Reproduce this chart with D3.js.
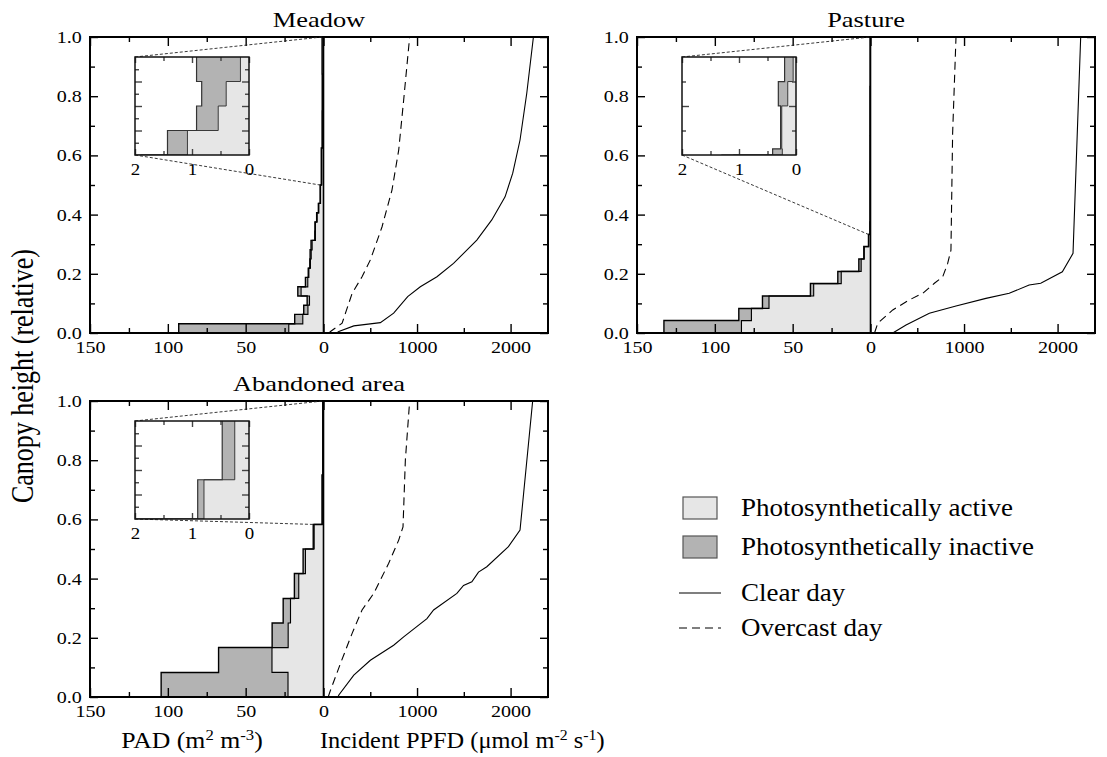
<!DOCTYPE html>
<html lang="en">
<head>
<meta charset="UTF-8">
<title>Canopy structure and light profiles</title>
<script src="https://d3js.org/d3.v7.min.js"></script>
<style>
    body { margin: 0; background: #fff; }
    svg { display: block; }
    text { font-family: "Liberation Serif", "Times New Roman", serif; fill: #000; }
</style>
</head>
<body>
<div id="chart"></div>
<script>
// ---- data: layer boundaries (relative canopy height) and PAD per layer (m2 m-3) ----
const meadowLayers = [0, 0.031, 0.063, 0.094, 0.125, 0.156, 0.188, 0.219, 0.25, 0.281, 0.313,
                      0.344, 0.375, 0.406, 0.438, 0.469, 0.5, 0.625, 0.75, 0.875, 1];
const meadowTotal  = [93, 18.5, 12.7, 10.5, 16.5, 11.6, 9.8, 8.8, 8.6, 8.0, 5.6, 5.5, 4.4, 3.3, 2.2, 2.2, 1.43, 0.92, 0.83, 0.92];
const meadowActive = [22.3, 13.3, 10.0, 9.0, 14.4, 10.1, 9.4, 8.4, 7.9, 7.3, 5.2, 5.2, 4.1, 3.0, 1.9, 1.9, 1.08, 0.54, 0.40, 0.15];

const pastureLayers = [0, 0.042, 0.083, 0.125, 0.167, 0.208, 0.25, 0.292, 0.333, 0.375, 0.667, 0.833, 1];
const pastureTotal  = [132.7, 84.6, 69.4, 38.6, 21.0, 7.5, 4.3, 1.3, 0.41, 0.27, 0.31, 0.2];
const pastureActive = [82.9, 76.5, 65.2, 36.5, 18.8, 6.0, 4.0, 1.1, 0.24, 0.25, 0.145, 0.05];

const abandonedLayers = [0, 0.083, 0.167, 0.25, 0.333, 0.417, 0.5, 0.583, 0.75, 1];
const abandonedTotal  = [104.3, 67.4, 33.0, 25.9, 18.7, 13.1, 6.6, 0.90, 0.47];
const abandonedActive = [22.8, 33.1, 22.7, 21.2, 15.9, 11.6, 6.0, 0.79, 0.25];

// ---- incident PPFD profiles (umol m-2 s-1) ----
const meadowClearH = [0, 0.005, 0.024, 0.035, 0.067, 0.123, 0.156, 0.19, 0.235, 0.314, 0.382, 0.46, 0.54, 0.652, 0.81, 1.0];
const meadowClear  = [140, 164, 324, 608, 750, 900, 1035, 1213, 1390, 1639, 1799, 1941, 2023, 2101, 2173, 2244];
const meadowOverH  = [0, 0.005, 0.033, 0.067, 0.134, 0.19, 0.247, 0.359, 0.483, 0.618, 0.787, 1.0];
const meadowOver   = [60, 75, 199, 235, 306, 412, 501, 626, 732, 804, 857, 921];

const pastureClearH = [0, 0.027, 0.067, 0.091, 0.117, 0.134, 0.162, 0.168, 0.207, 0.269, 1.0];
const pastureClear  = [238, 380, 629, 914, 1234, 1483, 1696, 1820, 2051, 2165, 2247];
const pastureOverH  = [0, 0.033, 0.078, 0.112, 0.134, 0.168, 0.19, 0.235, 0.28, 0.675, 1.0];
const pastureOver   = [43, 78, 238, 416, 558, 683, 772, 825, 860, 878, 914];

const abandonedClearH = [0, 0.007, 0.074, 0.124, 0.175, 0.203, 0.265, 0.294, 0.35, 0.377, 0.389, 0.422, 0.44, 0.508, 0.564, 1.0];
const abandonedClear  = [155, 164, 324, 501, 750, 857, 1106, 1177, 1426, 1497, 1586, 1657, 1746, 1977, 2101, 2236];
const abandonedOverH  = [0, 0.023, 0.113, 0.215, 0.294, 0.35, 0.395, 0.452, 0.53, 0.575, 0.80, 1.0];
const abandonedOver   = [50, 75, 181, 306, 412, 537, 608, 697, 804, 850, 875, 921];

// ---- inset ranges (zoomed upper canopy) ----
const meadowInset = [0.5, 1], pastureInset = [0.333, 1], abandonedInset = [0.583, 1];

// ---- ticks and labels ----
const padTicks = [150, 125, 100, 75, 50, 25, 0];
const ppfdTicks = [500, 1000, 1500, 2000];
const heightTicks = d3.range(0, 11).map(i => i / 10);
const insetPadTicks = [2, 1.5, 1, 0.5, 0];
const legendLabels = ["Photosynthetically active", "Photosynthetically inactive", "Clear day", "Overcast day"];

const LIGHT = "#e6e6e6", DARK = "#b3b3b3";
const width = 1107, height = 757;
const SX = 1.18;               // the original figure is a bit wider than tall in its glyphs
const panelW = 458, panelH = 296, padW = 233.5;

const panels = [
    { title: "Meadow", left: 90, top: 37, layers: meadowLayers, total: meadowTotal, active: meadowActive,
      clearH: meadowClearH, clear: meadowClear, overH: meadowOverH, over: meadowOver, inset: meadowInset, insetDiv: 8 },
    { title: "Pasture", left: 637, top: 37, layers: pastureLayers, total: pastureTotal, active: pastureActive,
      clearH: pastureClearH, clear: pastureClear, overH: pastureOverH, over: pastureOver, inset: pastureInset, insetDiv: 4 },
    { title: "Abandoned area", left: 90, top: 401, layers: abandonedLayers, total: abandonedTotal, active: abandonedActive,
      clearH: abandonedClearH, clear: abandonedClear, overH: abandonedOverH, over: abandonedOver, inset: abandonedInset, insetDiv: 8 }
];

const svg = d3.select("#chart").append("svg")
    .attr("width", width)
    .attr("height", height);

function addText(parent, x, y, str, size, anchor, sx) {
    return parent.append("text")
        .attr("transform", `translate(${x},${y}) scale(${sx || SX},1)`)
        .attr("text-anchor", anchor || "middle")
        .style("font-size", size + "px")
        .text(str);
}

function stepPoints(bounds, values) {
    const pts = [];
    values.forEach((v, i) => {
        pts.push([v, bounds[i]]);
        pts.push([v, bounds[i + 1]]);
    });
    return pts;
}

function drawProfile(g, p, xs, ys, outline, outlineW) {
    const area = d3.area().x0(xs(0)).x1(d => xs(d[0])).y(d => ys(d[1]));
    const line = d3.line().x(d => xs(d[0])).y(d => ys(d[1]));
    const tot = stepPoints(p.layers, p.total);
    const act = stepPoints(p.layers, p.active);
    g.append("path").attr("d", area(tot)).attr("fill", DARK);
    g.append("path").attr("d", area(act)).attr("fill", LIGHT);
    g.append("path").attr("d", line(act)).attr("fill", "none").attr("stroke", outline).attr("stroke-width", outlineW * 0.8);
    g.append("path").attr("d", line(tot)).attr("fill", "none").attr("stroke", outline).attr("stroke-width", outlineW);
}

function styleAxis(ga, size) {
    ga.select(".domain").remove();
    ga.selectAll(".tick line").attr("stroke-width", 1.4);
    ga.selectAll("text").style("font-size", size + "px").attr("transform", `scale(${SX},1)`);
}

function drawPanel(p) {
    const g = svg.append("g");
    const x0 = p.left, top = p.top, bottom = top + panelH, zeroX = x0 + padW, right = x0 + panelW;
    const xPad = d3.scaleLinear().domain([150, 0]).range([x0, zeroX]);
    const xPpfd = d3.scaleLinear().domain([0, 2400]).range([zeroX, right]);
    const y = d3.scaleLinear().domain([0, 1]).range([bottom, top]);

    drawProfile(g, p, xPad, y, "#000", 1.4);

    g.append("line")
        .attr("x1", zeroX).attr("x2", zeroX).attr("y1", top).attr("y2", bottom)
        .attr("stroke", "#000").attr("stroke-width", 1.6);

    const ppfdLine = d3.line().x(d => xPpfd(d[0])).y(d => y(d[1]));
    g.append("path")
        .attr("d", ppfdLine(d3.zip(p.clear, p.clearH)))
        .attr("fill", "none").attr("stroke", "#000").attr("stroke-width", 1.1);
    g.append("path")
        .attr("d", ppfdLine(d3.zip(p.over, p.overH)))
        .attr("fill", "none").attr("stroke", "#000").attr("stroke-width", 1.1)
        .attr("stroke-dasharray", "8,5");

    // axes with inward ticks
    const yl = g.append("g").attr("transform", `translate(${x0},0)`)
        .call(d3.axisLeft(y).tickValues(heightTicks).tickSize(-8).tickPadding(7)
            .tickFormat((d, i) => i % 2 ? "" : d3.format(".1f")(d)));
    styleAxis(yl, 17);
    yl.selectAll(".tick line").attr("x2", (d, i) => i % 2 ? 5 : 8);

    const yr = g.append("g").attr("transform", `translate(${right},0)`)
        .call(d3.axisRight(y).tickValues(heightTicks).tickSize(-8).tickFormat(""));
    styleAxis(yr, 17);
    yr.selectAll(".tick line").attr("x2", (d, i) => i % 2 ? -5 : -8);

    const xb = g.append("g").attr("transform", `translate(0,${bottom})`)
        .call(d3.axisBottom(xPad).tickValues(padTicks).tickSize(-9).tickPadding(8)
            .tickFormat(d => d % 50 ? "" : d));
    styleAxis(xb, 17);
    xb.selectAll(".tick line").attr("y2", d => d % 50 ? -5 : -9);

    const xb2 = g.append("g").attr("transform", `translate(0,${bottom})`)
        .call(d3.axisBottom(xPpfd).tickValues(ppfdTicks).tickSize(-9).tickPadding(8)
            .tickFormat(d => d % 1000 ? "" : d));
    styleAxis(xb2, 17);
    xb2.selectAll(".tick line").attr("y2", d => d % 1000 ? -5 : -9);

    const xt = g.append("g").attr("transform", `translate(0,${top})`)
        .call(d3.axisTop(xPad).tickValues(padTicks).tickSize(-9).tickFormat(""));
    styleAxis(xt, 17);
    xt.selectAll(".tick line").attr("y2", d => d % 50 ? 5 : 9);

    const xt2 = g.append("g").attr("transform", `translate(0,${top})`)
        .call(d3.axisTop(xPpfd).tickValues(ppfdTicks).tickSize(-9).tickFormat(""));
    styleAxis(xt2, 17);
    xt2.selectAll(".tick line").attr("y2", d => d % 1000 ? 5 : 9);

    g.append("rect")
        .attr("x", x0).attr("y", top).attr("width", panelW).attr("height", panelH)
        .attr("fill", "none").attr("stroke", "#000").attr("stroke-width", 2);

    addText(g, x0 + panelW / 2, top - 10, p.title, 22, "middle", 1.2);

    drawInset(g, p, xPad, y);
}

function drawInset(g, p, xPad, y) {
    const ix = p.left + 45, iy = p.top + 20, iw = 114, ih = 98;
    const lo = p.inset[0], hi = p.inset[1];
    const xi = d3.scaleLinear().domain([2, 0]).range([ix, ix + iw]);
    const yi = d3.scaleLinear().domain([lo, hi]).range([iy + ih, iy]);

    // connectors to the zoomed part of the main profile
    const below = p.layers.findIndex(b => Math.abs(b - lo) < 1e-3) - 1;
    const conn = [
        [[xi(2), yi(hi)], [xPad(p.total[p.total.length - 1]), y(hi)]],
        [[xi(2), yi(lo)], [xPad(p.total[below]), y(lo)]]
    ];
    g.selectAll(null).data(conn).join("line")
        .attr("x1", d => d[0][0]).attr("y1", d => d[0][1])
        .attr("x2", d => d[1][0]).attr("y2", d => d[1][1])
        .attr("stroke", "#222").attr("stroke-width", 0.9).attr("stroke-dasharray", "3,2");

    const clipId = "clip-" + p.title.replace(/\s/g, "");
    g.append("clipPath").attr("id", clipId)
        .append("rect").attr("x", ix).attr("y", iy).attr("width", iw).attr("height", ih);

    g.append("rect").attr("x", ix).attr("y", iy).attr("width", iw).attr("height", ih).attr("fill", "#fff");
    const gi = g.append("g").attr("clip-path", `url(#${clipId})`);
    drawProfile(gi, p, xi, yi, "#333", 1.2);

    const yTicks = d3.range(1, p.insetDiv).map(i => lo + i * (hi - lo) / p.insetDiv);
    const il = g.append("g").attr("transform", `translate(${ix},0)`)
        .call(d3.axisLeft(yi).tickValues(yTicks).tickSize(-7).tickFormat(""));
    styleAxis(il, 15);
    il.selectAll(".tick line").attr("x2", (d, i) => i % 2 ? 7 : 4).attr("stroke", "#444");
    const ir = g.append("g").attr("transform", `translate(${ix + iw},0)`)
        .call(d3.axisRight(yi).tickValues(yTicks).tickSize(-7).tickFormat(""));
    styleAxis(ir, 15);
    ir.selectAll(".tick line").attr("x2", (d, i) => i % 2 ? -7 : -4).attr("stroke", "#444");

    const ib = g.append("g").attr("transform", `translate(0,${iy + ih})`)
        .call(d3.axisBottom(xi).tickValues(insetPadTicks).tickSize(-6).tickPadding(9)
            .tickFormat(d => d % 1 ? "" : d));
    styleAxis(ib, 16);
    ib.selectAll(".tick line").attr("y2", d => d % 1 ? -4 : -6).attr("stroke", "#444");
    const it = g.append("g").attr("transform", `translate(0,${iy})`)
        .call(d3.axisTop(xi).tickValues(insetPadTicks).tickSize(-6).tickFormat(""));
    styleAxis(it, 16);
    it.selectAll(".tick line").attr("y2", d => d % 1 ? 4 : 6).attr("stroke", "#444");

    g.append("rect").attr("x", ix).attr("y", iy).attr("width", iw).attr("height", ih)
        .attr("fill", "none").attr("stroke", "#111").attr("stroke-width", 1.5);
}

panels.forEach(drawPanel);

// ---- axis titles ----
function addRich(x, y, parts, size, anchor, sx) {
    const t = svg.append("text")
        .attr("transform", `translate(${x},${y}) scale(${sx},1)`)
        .attr("text-anchor", anchor)
        .style("font-size", size + "px");
    parts.forEach(([s, sup]) => {
        t.append("tspan")
            .attr("baseline-shift", sup ? "super" : null)
            .style("font-size", sup ? (size * 0.65) + "px" : null)
            .text(s);
    });
    return t;
}
addRich(192, 748, [["PAD (m", 0], ["2", 1], [" m", 0], ["-3", 1], [")", 0]], 23, "middle", 1.12);
addRich(320, 748, [["Incident PPFD (\u03bcmol m", 0], ["-2", 1], [" s", 0], ["-1", 1], [")", 0]], 23, "start", 1.06);

svg.append("text")
    .attr("transform", "translate(33,376) rotate(-90) scale(1,1.18)")
    .attr("text-anchor", "middle")
    .style("font-size", "26px")
    .text("Canopy height (relative)");

// ---- legend ----
const legendY = [508, 547, 593, 628];
const lg = svg.append("g");
lg.selectAll("rect").data([LIGHT, DARK]).join("rect")
    .attr("x", 683).attr("y", (d, i) => legendY[i] - 11)
    .attr("width", 34).attr("height", 22)
    .attr("fill", d => d).attr("stroke", "#555").attr("stroke-width", 1.2);
lg.selectAll("line").data([null, "8,5"]).join("line")
    .attr("x1", 679).attr("x2", 721)
    .attr("y1", (d, i) => legendY[i + 2]).attr("y2", (d, i) => legendY[i + 2])
    .attr("stroke", "#000").attr("stroke-width", 1.1)
    .attr("stroke-dasharray", d => d);
legendLabels.forEach((s, i) => addText(lg, 741, legendY[i] + 8, s, 25, "start", 1.08));
</script>
</body>
</html>
